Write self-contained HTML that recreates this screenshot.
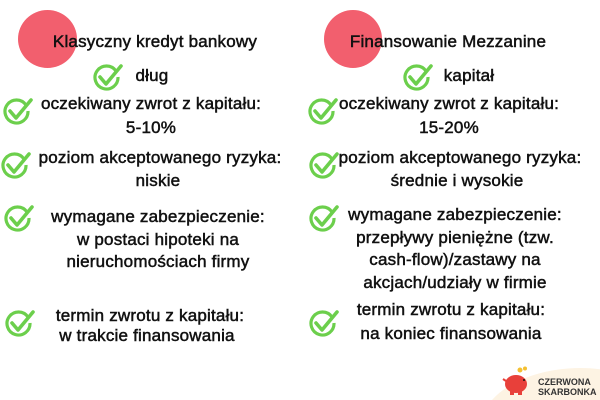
<!DOCTYPE html>
<html style="margin:0;width:600px;height:400px;overflow:hidden"><head><meta charset="utf-8"><style>
body{margin:0;width:600px;height:400px;background:#fff;position:relative;overflow:hidden;font-family:"Liberation Sans",sans-serif;color:#111;}
.t{position:absolute;width:260px;text-align:center;font-size:17px;line-height:20px;letter-spacing:0.2px;white-space:nowrap;-webkit-text-stroke:0.5px #111;}
.c{position:absolute;border-radius:50%;background:#f25f6e;}
svg.k{position:absolute;width:32px;height:30px;}
</style></head><body>
<svg style="position:absolute;left:0;top:0" width="600" height="400"><defs><g id="ck"><path d="M24 9 A11.5 11.5 0 1 0 26 15" fill="none" stroke="#6ccf4c" stroke-width="3.2"/><path d="M8 15 L14 22 L29 4" fill="none" stroke="#6ccf4c" stroke-width="3.6" stroke-linecap="round" stroke-linejoin="round"/></g></defs>
<path d="M492 400 A100 60 0 0 1 600 369.2 L600 400 Z" fill="#fdf3e3"/></svg>
<div class="c" style="left:18px;top:10px;width:59px;height:58px"></div>
<div class="c" style="left:324px;top:10px;width:58px;height:58px"></div>

<div class="t" style="left:25px;top:32px">Klasyczny kredyt bankowy</div>
<div class="t" style="left:22px;top:66px">dług</div>
<div class="t" style="left:21px;top:94px">oczekiwany zwrot z kapitału:</div>
<div class="t" style="left:21px;top:118px">5-10%</div>
<div class="t" style="left:30px;top:148px">poziom akceptowanego ryzyka:</div>
<div class="t" style="left:28px;top:171px">niskie</div>
<div class="t" style="left:28px;top:207px">wymagane zabezpieczenie:</div>
<div class="t" style="left:28px;top:230px">w postaci hipoteki na</div>
<div class="t" style="left:28px;top:252px">nieruchomościach firmy</div>
<div class="t" style="left:20px;top:306px">termin zwrotu z kapitału:</div>
<div class="t" style="left:17px;top:326px">w trakcie finansowania</div>

<div class="t" style="left:318px;top:32px">Finansowanie Mezzanine</div>
<div class="t" style="left:339px;top:66px">kapitał</div>
<div class="t" style="left:319px;top:94px">oczekiwany zwrot z kapitału:</div>
<div class="t" style="left:319px;top:118px">15-20%</div>
<div class="t" style="left:330px;top:148px">poziom akceptowanego ryzyka:</div>
<div class="t" style="left:327px;top:171px">średnie i wysokie</div>
<div class="t" style="left:325px;top:205px">wymagane zabezpieczenie:</div>
<div class="t" style="left:325px;top:228px">przepływy pieniężne (tzw.</div>
<div class="t" style="left:325px;top:250px">cash-flow)/zastawy na</div>
<div class="t" style="left:325px;top:273px">akcjach/udziały w firmie</div>
<div class="t" style="left:321px;top:300px">termin zwrotu z kapitału:</div>
<div class="t" style="left:321px;top:324px">na koniec finansowania</div>

<svg class="k" style="left:92px;top:62px"><use href="#ck"/></svg>
<svg class="k" style="left:2px;top:96px"><use href="#ck"/></svg>
<svg class="k" style="left:0px;top:150px"><use href="#ck"/></svg>
<svg class="k" style="left:3px;top:203px"><use href="#ck"/></svg>
<svg class="k" style="left:4px;top:308px"><use href="#ck"/></svg>
<svg class="k" style="left:402px;top:62px"><use href="#ck"/></svg>
<svg class="k" style="left:307px;top:96px"><use href="#ck"/></svg>
<svg class="k" style="left:308px;top:150px"><use href="#ck"/></svg>
<svg class="k" style="left:308px;top:203px"><use href="#ck"/></svg>
<svg class="k" style="left:308px;top:308px"><use href="#ck"/></svg>

<svg style="position:absolute;left:500px;top:366px" width="30" height="30"><circle cx="20" cy="4" r="2.5" fill="#f4c030"/><circle cx="25" cy="2.5" r="2" fill="#f4c030"/><ellipse cx="16" cy="18" rx="11" ry="9" fill="#e8403a"/><rect x="10" y="24" width="4" height="5" fill="#e8403a"/><rect x="18" y="24" width="4" height="5" fill="#e8403a"/><path d="M3 13 l3 2" stroke="#e8403a" stroke-width="2"/><circle cx="24" cy="14" r="1" fill="#111"/></svg>
<div style="position:absolute;left:538px;top:377px;font-size:9px;line-height:10px;font-weight:bold;color:#333">CZERWONA<br>SKARBONKA</div>
</body></html>
